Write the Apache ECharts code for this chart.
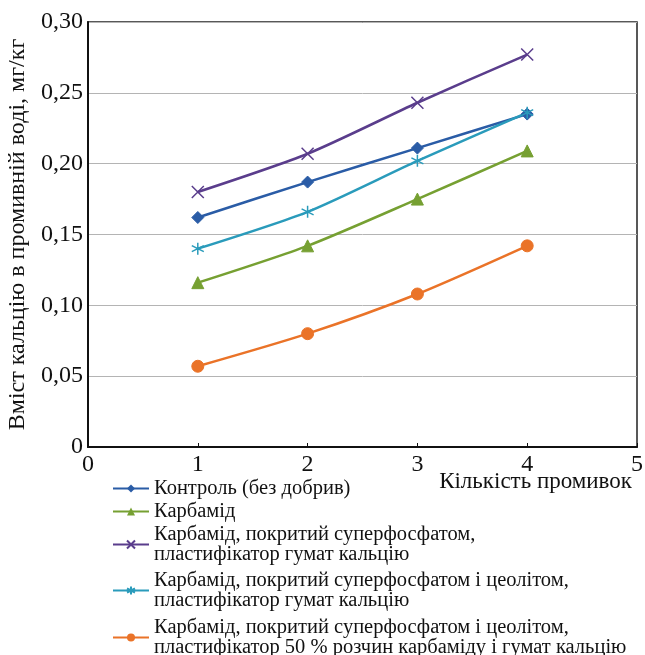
<!DOCTYPE html>
<html>
<head>
<meta charset="utf-8">
<script src="https://cdn.jsdelivr.net/npm/echarts@6/dist/echarts.min.js"></script>
<style>
  html, body { margin: 0; padding: 0; background: #fff; }
  #chart { width: 645px; height: 655px; }
</style>
</head>
<body>
<div id="chart"></div>
<script>
const washes = [1, 2, 3, 4];

const seriesNames = [
  "Контроль (без добрив)",
  "Карбамід",
  "Карбамід, покритий суперфосфатом,\nпластифікатор гумат кальцію",
  "Карбамід, покритий суперфосфатом і цеолітом,\nпластифікатор гумат кальцію",
  "Карбамід, покритий суперфосфатом і цеолітом,\nпластифікатор 50 % розчин карбаміду і гумат кальцію"
];

const control = [0.162, 0.187, 0.211, 0.235];
const urea = [0.116, 0.142, 0.175, 0.209];
const ureaSuperphos = [0.180, 0.207, 0.243, 0.277];
const ureaZeolite = [0.140, 0.166, 0.202, 0.236];
const ureaZeolite50 = [0.057, 0.080, 0.108, 0.142];

const xTicks = [0, 1, 2, 3, 4, 5];
const yTicks = [0, 0.05, 0.10, 0.15, 0.20, 0.25, 0.30];
const xAxisTitle = "Кількість промивок";
const yAxisTitle = "Вміст кальцію в промивній воді, мг/кг";

const values = [control, urea, ureaSuperphos, ureaZeolite, ureaZeolite50];

const colors = ["#2a5ca6", "#76a032", "#5a3d8c", "#2a9bbb", "#ea7328"];
const crossPath = "path://M0,0L10,10M10,0L0,10";
const starPath = "path://M5,0L5,10M0,2.5L10,7.5M0,7.5L10,2.5";
const symbols = ["diamond", "triangle", crossPath, starPath, "circle"];
const symbolSizes = [12, 12, 12, 12, 12];

const font = "Liberation Serif, Times New Roman, serif";

const chart = echarts.init(document.getElementById("chart"));

const series = values.map((vals, i) => {
  const hollow = i === 2 || i === 3;
  return {
    name: seriesNames[i],
    type: "line",
    smooth: 0.25,
    data: vals.map((v, j) => [washes[j], v]),
    symbol: symbols[i],
    symbolSize: symbolSizes[i],
    lineStyle: { color: colors[i], width: 2.5 },
    itemStyle: hollow
      ? { color: "none", borderColor: colors[i], borderWidth: 1.5 }
      : { color: colors[i], borderColor: colors[i] },
    emphasis: { disabled: true }
  };
});

// one legend per entry so rows sit where they do in the picture
const legendTops = [478, 501, 524, 570, 617];
const legends = seriesNames.map((name, i) => ({
  data: [name],
  left: 112,
  top: legendTops[i],
  padding: 0,
  itemWidth: 36,
  itemHeight: 10,
  itemGap: 5,
  selectedMode: false,
  textStyle: { fontFamily: font, fontSize: 20.5, color: "#111", lineHeight: 20 }
}));

chart.setOption({
  animation: false,
  color: colors,
  legend: legends,
  grid: { left: 88, right: 8, top: 22, bottom: 208, containLabel: false,
          outerBoundsMode: "none",
          show: true, borderColor: "#222", borderWidth: 1.5 },
  // x axis title sits under the tick labels, right-aligned to the box
  graphic: [{
    type: "text",
    right: 13,
    top: 470,
    style: { text: xAxisTitle, font: "23px " + font, fill: "#111" }
  }],
  xAxis: {
    type: "value",
    min: xTicks[0],
    max: xTicks[xTicks.length - 1],
    interval: 1,
    axisLine: { lineStyle: { color: "#111", width: 2 } },
    axisTick: { show: true, length: 4, inside: true, lineStyle: { color: "#111" } },
    axisLabel: { fontFamily: font, fontSize: 24, color: "#111", margin: 6 },
    splitLine: { show: false }
  },
  yAxis: {
    type: "value",
    min: yTicks[0],
    max: yTicks[yTicks.length - 1],
    interval: 0.05,
    name: yAxisTitle,
    nameLocation: "middle",
    nameGap: 54,
    nameTextStyle: { fontFamily: font, fontSize: 24, color: "#111" },
    axisLine: { show: true, lineStyle: { color: "#111", width: 2 } },
    axisTick: { show: false },
    axisLabel: {
      fontFamily: font, fontSize: 24, color: "#111", margin: 5,
      formatter: v => v === 0 ? "0" : v.toFixed(2).replace(".", ",")
    },
    splitLine: { lineStyle: { color: "#b4b4b4", width: 1 } }
  },
  series: series
});
</script>
</body>
</html>
